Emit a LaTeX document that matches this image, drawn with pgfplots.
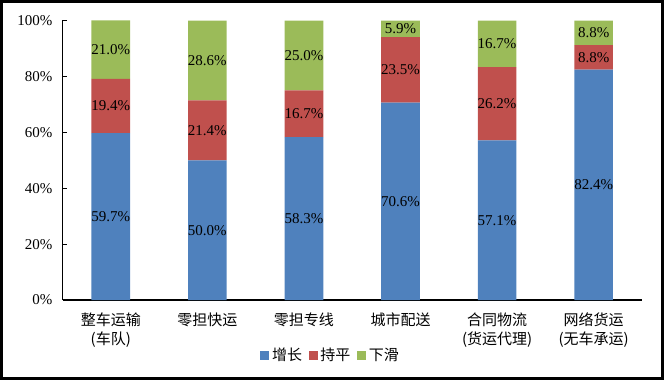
\documentclass[border=0pt]{standalone}
\usepackage{pgfplots}
\usepackage{pgfplotstable}
\pgfplotsset{compat=1.18}
\usepackage{fontspec}
\setmainfont{Liberation Serif}
\newfontfamily\cjk{Noto Sans CJK SC}
\definecolor{cblue}{HTML}{4F81BD}
\definecolor{cred}{HTML}{C0504D}
\definecolor{cgreen}{HTML}{9BBB59}
\pgfplotstableread{
x v1 v2 v3
0 59.7 19.4 21.0
1 50.0 21.4 28.6
2 58.3 16.7 25.0
3 70.6 23.5 5.9
4 57.1 26.2 16.7
5 82.4 8.8 8.8
}\data
\begin{document}
\begin{tikzpicture}
\useasboundingbox (-46.875pt,-60pt) rectangle (451.125pt,225pt);
\begin{axis}[
  at={(0pt,0pt)}, anchor=south west,
  scale only axis, width=434.6pt, height=209.8pt,
  ybar stacked, bar width=0.4,
  xmin=-0.5, xmax=5.5, ymin=0, ymax=100.1,
  axis lines=left, axis line style={-, line width=0.8pt, black},
  xtick=data,
  xticklabels={{整车运输\\(车队)},零担快运,零担专线,城市配送,{合同物流\\(货运代理)},{网络货运\\(无车承运)}},
  xticklabel style={align=center, font=\cjk\fontsize{11.25}{14}\selectfont, yshift=-6pt},
  major x tick style={draw=none},
  ytick={0,20,40,60,80,100},
  yticklabel={\pgfmathprintnumber{\tick}\%},
  yticklabel style={font=\fontsize{11.25}{13.5}\selectfont, xshift=-4pt},
  /pgf/number format/assume math mode=true,
  major tick length=3pt, tick align=inside,
  major y tick style={line width=0.8pt, black},
  point meta=explicit symbolic,
  nodes near coords={\pgfplotspointmeta\%},
  every node near coord/.append style={font=\fontsize{11.25}{13.5}\selectfont, black, anchor=center},
  legend columns=3,
  legend style={draw=none, at={(0.4633,-0.1968)}, anchor=center, font=\cjk\fontsize{11.25}{13.5}\selectfont, /tikz/every even column/.append style={column sep=3pt}},
  legend image code/.code={\fill[#1,draw=none] (0pt,-3.4pt) rectangle (6.8pt,3.4pt);},
  clip=true,
]
\addplot[fill=cblue, draw=none] table[x=x, y=v1, meta=v1] {\data};
\addplot[fill=cred, draw=none] table[x=x, y=v2, meta=v2] {\data};
\addplot[fill=cgreen, draw=none] table[x=x, y=v3, meta=v3] {\data};
\legend{增长,持平,下滑}
\end{axis}
\draw[line width=2.6pt] (-46.875pt+1.3pt,-60pt+1.3pt) rectangle (451.125pt-1.3pt,225pt-1.3pt);
\end{tikzpicture}
\end{document}
